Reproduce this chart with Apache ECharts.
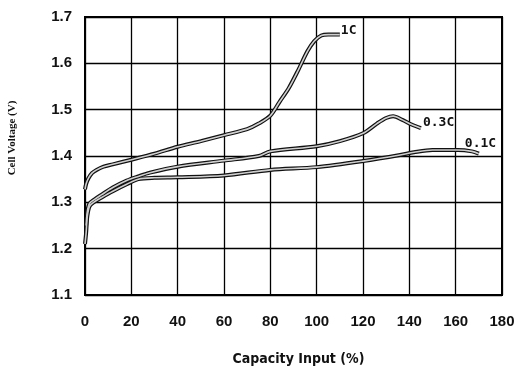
<!DOCTYPE html>
<html>
<head>
<meta charset="utf-8">
<script src="https://cdn.jsdelivr.net/npm/echarts@6/dist/echarts.min.js"></script>
<style>html,body{margin:0;padding:0;background:#fff}#c{width:520px;height:371px}</style>
</head>
<body>
<div id="c"></div>
<script>
// Capacity input (%) and cell voltage (V) for each charge rate
var cap1C = [0, 0.5, 1.5, 3, 5, 8, 12, 20, 30, 40, 50, 60, 70, 75, 80, 84, 88, 92, 96, 99, 102, 105, 110];
var v1C   = [1.328, 1.34, 1.352, 1.363, 1.37, 1.377, 1.382, 1.392, 1.405, 1.42, 1.432, 1.445, 1.458, 1.47, 1.487, 1.517, 1.547, 1.585, 1.626, 1.648, 1.66, 1.662, 1.662];

var cap03C = [0.5, 1, 2, 4, 7, 12, 18, 23, 28, 40, 60, 75, 80, 100, 110, 120, 126, 130, 133, 137, 141, 145];
var v03C   = [1.25, 1.28, 1.298, 1.306, 1.316, 1.332, 1.347, 1.356, 1.364, 1.377, 1.39, 1.40, 1.41, 1.421, 1.432, 1.449, 1.47, 1.482, 1.486, 1.478, 1.468, 1.46];

var cap01C = [0, 0.5, 1, 2, 4, 7, 12, 18, 23, 30, 40, 60, 80, 100, 120, 136, 142, 150, 161, 167, 170];
var v01C   = [1.21, 1.235, 1.27, 1.292, 1.301, 1.31, 1.324, 1.339, 1.35, 1.353, 1.354, 1.358, 1.37, 1.376, 1.389, 1.402, 1.408, 1.413, 1.413, 1.41, 1.405];

var seriesNames = ['1C', '0.3C', '0.1C'];
var xTicks = [0, 20, 40, 60, 80, 100, 120, 140, 160, 180];
var yTicks = [1.1, 1.2, 1.3, 1.4, 1.5, 1.6, 1.7];

function pairs(xs, ys) { return xs.map(function (x, i) { return [x, ys[i]]; }); }

var curves = [
  { name: seriesNames[0], data: pairs(cap1C, v1C), off: [-7, -4] },
  { name: seriesNames[1], data: pairs(cap03C, v03C), off: [-6, -6] },
  { name: seriesNames[2], data: pairs(cap01C, v01C), off: [-22, -10] }
];

var series = [];
curves.forEach(function (c) {
  series.push({
    type: 'line', name: c.name + '_o', data: c.data, showSymbol: false, smooth: 0.3,
    lineStyle: { color: '#111', width: 4 }, z: 3, silent: true
  });
});
curves.forEach(function (c) {
  series.push({
    type: 'line', name: c.name, data: c.data, showSymbol: false, smooth: 0.3,
    lineStyle: { color: '#cfcfcf', width: 1.6 }, z: 4, silent: true,
    endLabel: {
      show: true, formatter: c.name, offset: c.off,
      fontFamily: 'DejaVu Sans Mono, Liberation Mono, monospace',
      fontWeight: 'bold', fontSize: 13, color: '#111'
    }
  });
});

var chart = echarts.init(document.getElementById('c'), null, { renderer: 'canvas' });
var labelFont = 'Liberation Sans, Arial, sans-serif';
var narrowFont = 'Liberation Sans Narrow, DejaVu Sans Condensed, Liberation Sans, sans-serif';
chart.setOption({
  animation: false,
  backgroundColor: '#fff',
  grid: { left: 85, right: 18, top: 17, bottom: 72, show: true, borderColor: '#000', borderWidth: 2 },
  xAxis: {
    type: 'value', min: xTicks[0], max: xTicks[xTicks.length - 1], interval: 20,
    name: 'Capacity Input (%)', nameLocation: 'middle', nameGap: 57,
    nameTextStyle: { fontFamily: narrowFont, fontWeight: 'bold', fontSize: 14, color: '#111', padding: [0, 0, 0, 10] },
    axisLine: { show: true, lineStyle: { color: '#000', width: 2 } },
    axisTick: { show: false },
    axisLabel: { margin: 19, fontFamily: labelFont, fontWeight: 'bold', fontSize: 15, color: '#111' },
    splitLine: { show: true, lineStyle: { color: '#000', width: 1.3 } }
  },
  yAxis: {
    type: 'value', min: yTicks[0], max: yTicks[yTicks.length - 1], interval: 0.1,
    axisLine: { show: true, lineStyle: { color: '#000', width: 2 } },
    axisTick: { show: false },
    axisLabel: {
      margin: 13, fontFamily: labelFont, fontWeight: 'bold', fontSize: 15, color: '#111',
      formatter: function (v) { return v.toFixed(1); }
    },
    splitLine: { show: true, lineStyle: { color: '#000', width: 1.3 } }
  },
  graphic: [{
    type: 'text', x: 12, y: 138, rotation: Math.PI / 2,
    style: {
      text: 'Cell Voltage (V)', fill: '#111', fontSize: 11, fontWeight: 'bold',
      fontFamily: 'Liberation Serif, DejaVu Serif, serif', align: 'center', verticalAlign: 'middle'
    }
  }],
  series: series
});
</script>
</body>
</html>
